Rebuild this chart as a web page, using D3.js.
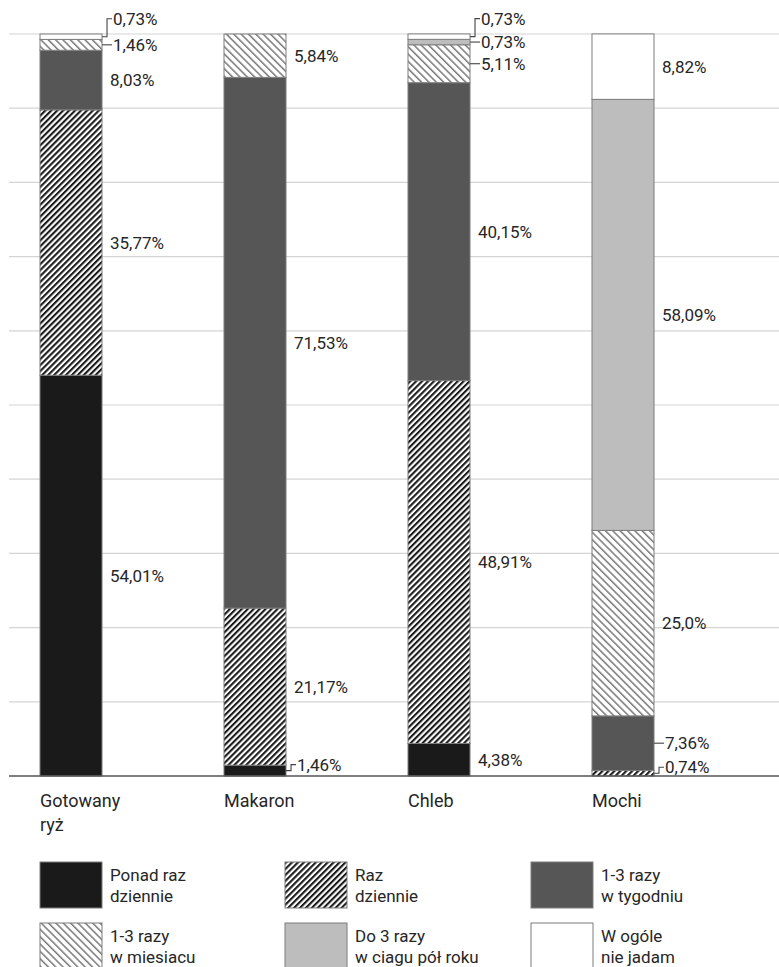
<!DOCTYPE html>
<html>
<head>
<meta charset="utf-8">
<script src="https://cdn.jsdelivr.net/npm/d3@7/dist/d3.min.js"></script>
<style>
  html, body { margin: 0; padding: 0; background: #fff; }
  svg { display: block; }
  text { font-family: Roboto, "Noto Sans", sans-serif; fill: #262626; }
</style>
</head>
<body>
<svg id="chart" width="779" height="967"></svg>
<script>
// Categories (two-line labels under the bars)
const categories = ["Gotowany ryż", "Makaron", "Chleb", "Mochi"];
const categoryLines = [["Gotowany", "ryż"], ["Makaron"], ["Chleb"], ["Mochi"]];

// Frequency answers, stacked bottom to top
const seriesNames = [
  "Ponad raz dziennie",
  "Raz dziennie",
  "1-3 razy w tygodniu",
  "1-3 razy w miesiacu",
  "Do 3 razy w ciagu pół roku",
  "W ogóle nie jadam"
];
const legendLines = [
  ["Ponad raz", "dziennie"],
  ["Raz", "dziennie"],
  ["1-3 razy", "w tygodniu"],
  ["1-3 razy", "w miesiacu"],
  ["Do 3 razy", "w ciagu pół roku"],
  ["W ogóle", "nie jadam"]
];

// Shares in percent, one array per series (order follows categories)
const ponadRazDziennie = [54.01, 1.46, 4.38, 0];
const razDziennie      = [35.77, 21.17, 48.91, 0.74];
const wTygodniu        = [8.03, 71.53, 40.15, 7.36];
const wMiesiacu        = [1.46, 5.84, 5.11, 25.0];
const polRoku          = [0, 0, 0.73, 58.09];
const wOgoleNie        = [0.73, 0, 0.73, 8.82];

const seriesValues = [ponadRazDziennie, razDziennie, wTygodniu, wMiesiacu, polRoku, wOgoleNie];

const yTicks = [0, 10, 20, 30, 40, 50, 60, 70, 80, 90, 100];

// Placement of labels for thin segments: "dash" = short tick,
// "bracket" = stepped leader lifted by dy pixels
const labelLeaders = {
  "Gotowany ryż|W ogóle nie jadam": { type: "bracket", dy: -18 },
  "Gotowany ryż|1-3 razy w miesiacu": { type: "dash", dy: 0 },
  "Makaron|Ponad raz dziennie": { type: "bracket", dy: -6 },
  "Chleb|W ogóle nie jadam": { type: "bracket", dy: -18 },
  "Chleb|Do 3 razy w ciagu pół roku": { type: "dash", dy: 0 },
  "Chleb|1-3 razy w miesiacu": { type: "dash", dy: 0 },
  "Mochi|Raz dziennie": { type: "bracket", dy: -6 },
  "Mochi|1-3 razy w tygodniu": { type: "dash", dy: 0 }
};

const svg = d3.select("#chart");
const defs = svg.append("defs");

// Hatch patterns
function hatch(id, angle, period, width, color) {
  const p = defs.append("pattern")
    .attr("id", id)
    .attr("patternUnits", "userSpaceOnUse")
    .attr("width", period)
    .attr("height", period)
    .attr("patternTransform", `rotate(${angle})`);
  p.append("rect").attr("width", period).attr("height", period).attr("fill", "#fff");
  p.append("rect").attr("x", 0).attr("y", 0).attr("width", width).attr("height", period).attr("fill", color);
}
hatch("hatchRaz", 45, 4.2, 2.1, "#1b1b1b");
hatch("hatchMies", -45, 5.2, 1.5, "#7a7a7a");

const fills = ["#1a1a1a", "url(#hatchRaz)", "#565656", "url(#hatchMies)", "#bdbdbd", "#ffffff"];

const x = d3.scaleBand()
  .domain(categories)
  .range([40, 654])
  .paddingInner(0.663)
  .paddingOuter(0);

const y = d3.scaleLinear().domain([0, 100]).range([776, 34]);

// Gridlines
svg.append("g")
  .selectAll("line")
  .data(yTicks.filter(t => t > 0))
  .join("line")
  .attr("x1", 9).attr("x2", 779)
  .attr("y1", d => y(d)).attr("y2", d => y(d))
  .attr("stroke", "#d4d4d4")
  .attr("stroke-width", 1.2);

// Stack data
const rows = categories.map((c, i) => {
  const r = { category: c };
  seriesNames.forEach((s, k) => { r[s] = seriesValues[k][i]; });
  return r;
});
const stacked = d3.stack().keys(seriesNames)(rows);

// Bars
const layers = svg.append("g").selectAll("g")
  .data(stacked)
  .join("g")
  .attr("fill", (d, i) => fills[i]);

layers.selectAll("rect")
  .data(d => d.map(v => ({ key: d.key, v })))
  .join("rect")
  .filter(d => d.v[1] - d.v[0] > 0)
  .attr("x", d => x(d.v.data.category))
  .attr("width", x.bandwidth())
  .attr("y", d => y(d.v[1]))
  .attr("height", d => y(d.v[0]) - y(d.v[1]))
  .attr("stroke", "#7d7d7d")
  .attr("stroke-width", 1);

// Baseline
svg.append("line")
  .attr("x1", 9).attr("x2", 779)
  .attr("y1", y(0)).attr("y2", y(0))
  .attr("stroke", "#555")
  .attr("stroke-width", 1.3);

// Value labels
const fmt = v => {
  const s = (Math.round(v * 100) / 100).toString();
  const txt = v % 1 === 0 ? v.toFixed(1) : s;
  return txt.replace(".", ",") + "%";
};

const labels = [];
stacked.forEach(layer => {
  layer.forEach(v => {
    const val = v[1] - v[0];
    if (val <= 0) return;
    labels.push({ key: layer.key, category: v.data.category, val, mid: y((v[0] + v[1]) / 2) });
  });
});

const lg = svg.append("g");
labels.forEach(l => {
  const right = x(l.category) + x.bandwidth();
  const lead = labelLeaders[l.category + "|" + l.key];
  let ty = l.mid, tx = right + 8;
  if (lead) {
    ty = l.mid + lead.dy;
    tx = right + 11;
    let path;
    if (lead.type === "dash") {
      path = `M${right},${l.mid}H${right + 10}`;
    } else {
      path = `M${right},${l.mid}H${right + 5}V${ty}H${right + 10}`;
    }
    lg.append("path").attr("d", path).attr("fill", "none")
      .attr("stroke", "#444").attr("stroke-width", 1.1);
  }
  lg.append("text")
    .attr("x", tx).attr("y", ty)
    .attr("dy", "0.36em")
    .attr("font-size", 17)
    .text(fmt(l.val));
});

// Category labels
categories.forEach((c, i) => {
  const t = svg.append("text")
    .attr("x", x(c))
    .attr("y", 807)
    .attr("font-size", 18);
  categoryLines[i].forEach((line, j) => {
    t.append("tspan").attr("x", x(c)).attr("dy", j === 0 ? 0 : 24).text(line);
  });
});

// Legend
const legendCols = [40, 285, 531];
const legendRows = [862, 923];
seriesNames.forEach((s, i) => {
  const gx = legendCols[i % 3];
  const gy = legendRows[Math.floor(i / 3)];
  const g = svg.append("g").attr("transform", `translate(${gx},${gy})`);
  g.append("rect")
    .attr("width", 62).attr("height", 46)
    .attr("fill", fills[i])
    .attr("stroke", "#7d7d7d").attr("stroke-width", 1);
  const t = g.append("text").attr("x", 70).attr("y", 19).attr("font-size", 17);
  legendLines[i].forEach((line, j) => {
    t.append("tspan").attr("x", 70).attr("dy", j === 0 ? 0 : 21).text(line);
  });
});
</script>
</body>
</html>
